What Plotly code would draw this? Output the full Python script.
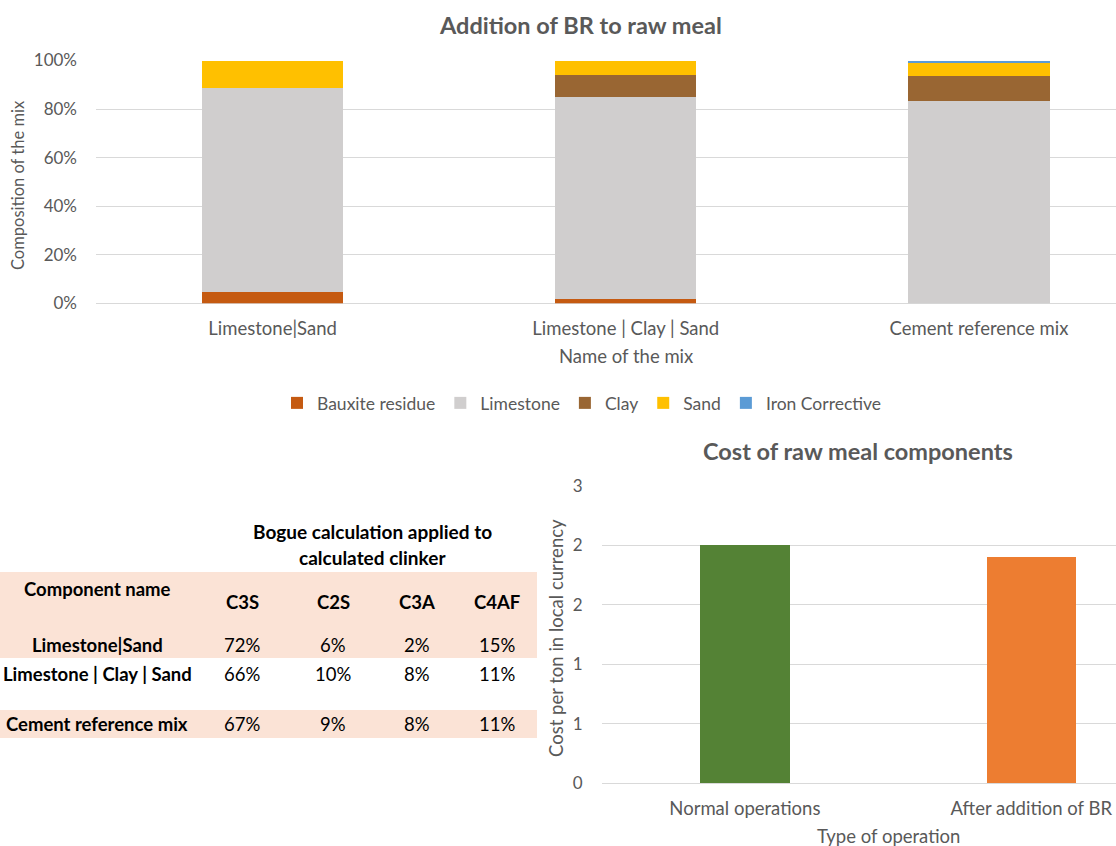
import plotly.graph_objects as go

W, H = 1116, 846

# ---------------- data ----------------
mixes = ["Limestone|Sand", "Limestone | Clay | Sand", "Cement reference mix"]
bauxite_residue = [0.048, 0.018, 0.0]
limestone = [0.842, 0.832, 0.835]
clay = [0.0, 0.094, 0.105]
sand = [0.110, 0.056, 0.052]
iron_corrective = [0.0, 0.0, 0.008]
pct_ticks = [0, 0.2, 0.4, 0.6, 0.8, 1.0]

operations = ["Normal operations", "After addition of BR"]
cost = [2.0, 1.9]
cost_tickvals = [0, 0.5, 1.0, 1.5, 2.0, 2.5]
cost_ticktext = ["0", "1", "1", "2", "2", "3"]

table_rows = ["Limestone|Sand", "Limestone | Clay | Sand", "Cement reference mix"]
table_cols = ["C3S", "C2S", "C3A", "C4AF"]
c3s = ["72%", "66%", "67%"]
c2s = ["6%", "10%", "9%"]
c3a = ["2%", "8%", "8%"]
c4af = ["15%", "11%", "11%"]

# ---------------- helpers ----------------
def px(x):
    return x / W

def py(y):
    return 1 - y / H

FONT = "Lato, 'Open Sans', sans-serif"
GREY = "#595959"
GRID = "#D9D9D9"
TXT = 18.5
NUM = 17

fig = go.Figure()

series = [
    ("Bauxite residue", bauxite_residue, "#C55A11"),
    ("Limestone", limestone, "#D0CECE"),
    ("Clay", clay, "#996633"),
    ("Sand", sand, "#FFC000"),
    ("Iron Corrective", iron_corrective, "#5B9BD5"),
]
for name, vals, col in series:
    fig.add_trace(go.Bar(
        x=mixes, y=vals, name=name, marker=dict(color=col, line=dict(width=0)),
        width=0.4, xaxis="x", yaxis="y"))

fig.add_trace(go.Bar(
    x=operations, y=cost, marker=dict(color=["#548235", "#ED7D31"], line=dict(width=0)),
    width=0.313, xaxis="x2", yaxis="y2", showlegend=False))

fig.update_layout(
    template="none",
    width=W, height=H, margin=dict(l=0, r=0, t=0, b=0, autoexpand=False),
    paper_bgcolor="white", plot_bgcolor="white",
    barmode="stack", bargap=0,
    font=dict(family=FONT, size=16, color=GREY),
    showlegend=True,
    legend=dict(orientation="h", x=px(582), xanchor="center", y=py(403), yanchor="middle",
                traceorder="normal", font=dict(size=17.5, color=GREY), itemwidth=30,
                bgcolor="rgba(0,0,0,0)"),
    xaxis=dict(domain=[px(96), 1], range=[-0.5, 2.388], showgrid=False, automargin=False,
               showline=False, ticks="", tickfont=dict(size=TXT, color=GREY),
               ticklabelstandoff=12, zeroline=False),
    yaxis=dict(domain=[py(303.3), py(60.5)], range=[0, 1], tickvals=pct_ticks, automargin=False,
               tickformat=".0%", showgrid=True, gridcolor=GRID, gridwidth=1,
               zeroline=True, zerolinecolor=GRID, zerolinewidth=1, showline=False,
               ticks="", tickfont=dict(size=NUM, color=GREY), ticklabelstandoff=18),
    xaxis2=dict(domain=[px(601.7), 1], range=[-0.5, 1.296], showgrid=False, automargin=False,
                showline=False, ticks="", tickfont=dict(size=TXT, color=GREY),
                ticklabelstandoff=12, anchor="y2", zeroline=False),
    yaxis2=dict(domain=[py(783.3), py(486)], range=[0, 2.5], tickvals=cost_tickvals,
                ticktext=cost_ticktext, showgrid=True, gridcolor=GRID, gridwidth=1,
                zeroline=True, zerolinecolor=GRID, zerolinewidth=1, showline=False, automargin=False,
                ticks="", tickfont=dict(size=NUM, color=GREY), ticklabelstandoff=18,
                anchor="x2"),
)

ann = []
def text(x, y, t, size=TXT, color=GREY, bold=False, angle=0, xanchor="center"):
    ann.append(dict(x=px(x), y=py(y), xref="paper", yref="paper", text=(f"<b>{t}</b>" if bold else t),
                    showarrow=False, xanchor=xanchor, yanchor="middle", textangle=angle,
                    font=dict(family=FONT, size=size, color=color)))

# chart titles and axis titles
text(580, 25, "Addition of BR to raw meal", size=23.5, bold=True)
text(626, 356, "Name of the mix", size=TXT)
text(18, 185, "Composition of the mix", size=16.5, angle=-90)
text(858, 451, "Cost of raw meal components", size=23.5, bold=True)
text(888, 836, "Type of operation", size=TXT)
text(556, 638, "Cost per ton in local currency", size=TXT, angle=-90)

# table
shapes = [
    dict(type="rect", xref="paper", yref="paper", x0=0, x1=px(537), y0=py(658), y1=py(572),
         fillcolor="#FBE3D6", line=dict(width=0), layer="below"),
    dict(type="rect", xref="paper", yref="paper", x0=0, x1=px(537), y0=py(738), y1=py(710),
         fillcolor="#FBE3D6", line=dict(width=0), layer="below"),
]
BLACK = "#000000"
text(372, 531, "Bogue calculation applied to", size=19, color=BLACK, bold=True)
text(372, 557, "calculated clinker", size=19, color=BLACK, bold=True)
text(97, 589, "Component name", size=TXT, color=BLACK, bold=True)
col_x = [242, 333, 417, 497]
for cx, c in zip(col_x, table_cols):
    text(cx, 602, c, size=TXT, color=BLACK, bold=True)
row_y = [645, 674, 724]
for ry, name, a, b, c, d in zip(row_y, table_rows, c3s, c2s, c3a, c4af):
    text(97, ry, name, size=TXT, color=BLACK, bold=True)
    for cx, v in zip(col_x, [a, b, c, d]):
        text(cx, ry, v, size=TXT, color=BLACK)

fig.update_layout(annotations=ann, shapes=shapes)
fig.write_html("out.html")
